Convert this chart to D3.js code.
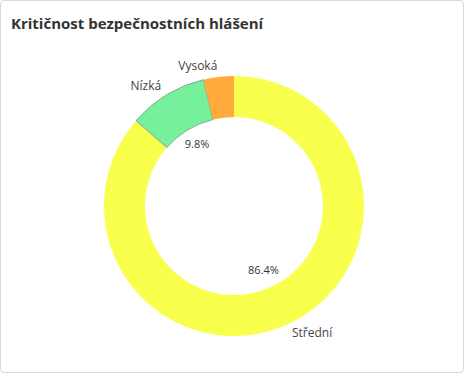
<!DOCTYPE html>
<html>
<head>
<meta charset="utf-8">
<script src="https://cdn.jsdelivr.net/npm/d3@7"></script>
<style>
  body { margin: 0; background: #fff; }
  #card {
    position: absolute; left: 0; top: 0;
    width: 462px; height: 371px;
    border: 1px solid #d9d9d9; border-radius: 4px;
    background: #fff;
  }
  svg { display: block; }
</style>
</head>
<body>
<div id="card"><svg id="chart"></svg></div>
<script>
var categories = ["Střední", "Nízká", "Vysoká"];
var values = [86.4, 9.8, 3.8];
var colors = ["#f8ff4c", "#76f09b", "#ffab3b"];
var strokes = ["none", "#7d9486", "none"];

var dimensions = {
  width: 462,
  height: 371,
  cx: 233,
  cy: 205,
  outer: 130,
  inner: 89
}

var svg = d3.select("#chart")
  .attr("width", dimensions.width)
  .attr("height", dimensions.height)

svg.append("text")
  .text("Kritičnost bezpečnostních hlášení")
  .attr("x", 10)
  .attr("y", 28)
  .style("font-family", "'Open Sans', sans-serif")
  .style("font-weight", "bold")
  .style("font-size", "15px")
  .style("fill", "#333")

var data = categories.map(function(c, i) { return {name: c, value: values[i], i: i} })

var pie = d3.pie().sort(null).value(function(d) { return d.value })
var arcs = pie(data)

var arc = d3.arc().innerRadius(dimensions.inner).outerRadius(dimensions.outer)
var inLabel = d3.arc().innerRadius(dimensions.inner * 0.8).outerRadius(dimensions.inner * 0.8)
var outLabel = d3.arc().innerRadius(dimensions.outer + 10).outerRadius(dimensions.outer + 10)

var g = svg.append("g")
  .attr("transform", "translate(" + dimensions.cx + "," + dimensions.cy + ")")

g.selectAll("path")
  .data(arcs)
  .join("path")
  .attr("d", arc)
  .attr("fill", function(d) { return colors[d.data.i] })
  .attr("stroke", function(d) { return strokes[d.data.i] })
  .attr("stroke-width", 0.8)

var total = d3.sum(values)

// percent labels inside the hole, only for bigger slices
g.selectAll(".pct")
  .data(arcs.filter(function(d) { return d.data.value / total > 0.05 }))
  .join("text")
  .attr("class", "pct")
  .attr("transform", function(d) { return "translate(" + inLabel.centroid(d) + ")" })
  .attr("text-anchor", "middle")
  .attr("dominant-baseline", "middle")
  .style("font-family", "'Open Sans', sans-serif")
  .style("font-size", "11px")
  .style("fill", "#333")
  .text(function(d) { return d.data.value.toFixed(1) + "%" })

g.selectAll(".name")
  .data(arcs)
  .join("text")
  .attr("class", "name")
  .attr("transform", function(d) { return "translate(" + outLabel.centroid(d) + ")" })
  .attr("text-anchor", function(d) { return outLabel.centroid(d)[0] > 0 ? "start" : "end" })
  .attr("dominant-baseline", "middle")
  .style("font-family", "'Open Sans', sans-serif")
  .style("font-size", "12px")
  .style("fill", "#444")
  .text(function(d) { return d.data.name })
</script>
</body>
</html>
